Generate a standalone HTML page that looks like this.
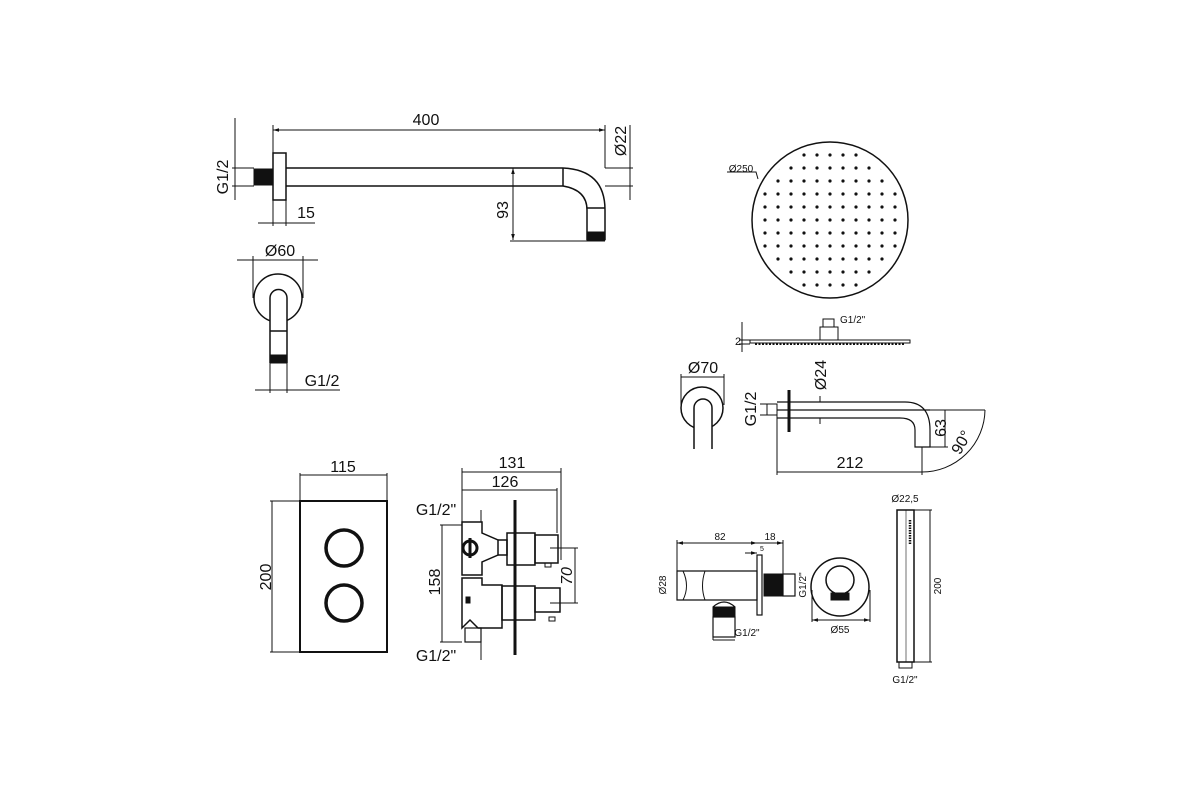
<!DOCTYPE html>
<html><head><meta charset="utf-8"><style>
html,body{margin:0;padding:0;background:#fff;}
svg{display:block;}
text{font-family:"Liberation Sans",sans-serif;fill:#111;}
</style></head><body>
<svg width="1200" height="800" viewBox="0 0 1200 800" xmlns="http://www.w3.org/2000/svg">
<defs>
<marker id="a" viewBox="0 0 10 10" refX="10" refY="5" markerWidth="6" markerHeight="6" orient="auto-start-reverse"><path d="M0,2 L10,5 L0,8 z" fill="#111"/></marker>
<pattern id="dp" x="823.5" y="213.5" width="13" height="13" patternUnits="userSpaceOnUse">
<circle cx="6.5" cy="6.5" r="1.6" fill="#111"/>
</pattern>
<clipPath id="cc"><circle cx="830" cy="220" r="72"/></clipPath>
</defs>
<rect x="755" y="145" width="150" height="150" fill="url(#dp)" clip-path="url(#cc)"/>
<g fill="none" stroke="#111" stroke-width="1">
<!-- top arm -->
<line x1="273" y1="130" x2="605" y2="130" marker-start="url(#a)" marker-end="url(#a)"/>
<line x1="273" y1="125" x2="273" y2="153"/>
<line x1="605" y1="125" x2="605" y2="168"/>
<rect x="273" y="153" width="13" height="47" stroke-width="1.5"/>
<rect x="254" y="169" width="19" height="16" fill="#111"/>
<path d="M286,168 H563 M286,186 H563 M563,168 V186" stroke-width="1.5"/>
<path d="M563,168 Q605,170 605,210 V240 M563,186 Q587,190 587,210 V240 M587,208 H605" stroke-width="1.5"/>
<rect x="587" y="232" width="18" height="8" fill="#111"/>
<line x1="235" y1="118" x2="235" y2="200"/>
<line x1="232" y1="168" x2="254" y2="168"/><line x1="232" y1="186" x2="254" y2="186"/>
<line x1="273" y1="200" x2="273" y2="226"/><line x1="286" y1="200" x2="286" y2="226"/>
<line x1="258" y1="223" x2="315" y2="223"/>
<line x1="513" y1="168" x2="513" y2="240" marker-start="url(#a)" marker-end="url(#a)"/>
<line x1="510" y1="241" x2="605" y2="241"/>
<line x1="630" y1="125" x2="630" y2="200"/>
<line x1="605" y1="168" x2="633" y2="168"/><line x1="605" y1="186" x2="633" y2="186"/>
<!-- O60 -->
<circle cx="278" cy="298" r="24" stroke-width="1.5"/>
<path d="M270,363 V298 A8.5,8.5 0 0 1 287,298 V363 M270,331 H287" fill="#fff" stroke-width="1.5"/>
<rect x="270" y="355" width="17" height="8" fill="#111"/>
<line x1="237" y1="260" x2="318" y2="260"/>
<line x1="253" y1="256" x2="253" y2="298"/><line x1="303" y1="256" x2="303" y2="298"/>
<line x1="255" y1="390" x2="340" y2="390"/>
<line x1="270" y1="363" x2="270" y2="393"/><line x1="287" y1="363" x2="287" y2="393"/>
<!-- shower head -->
<circle cx="830" cy="220" r="78" stroke-width="1.5"/>
<path d="M727,172 H756 L758,179"/>
<rect x="750" y="340" width="160" height="3" stroke-width="1"/>
<path d="M755,344 H905" stroke-dasharray="2,1.5" stroke-width="2"/>
<rect x="820" y="327" width="18" height="13"/>
<rect x="823" y="319" width="11" height="8"/>
<line x1="742" y1="322" x2="742" y2="352"/>
<line x1="739" y1="340" x2="750" y2="340"/><line x1="739" y1="344" x2="750" y2="344"/>
<!-- O70 -->
<circle cx="702" cy="408" r="21" stroke-width="1.5"/>
<path d="M694,449 V408 A9,9 0 0 1 712,408 V449" fill="#fff" stroke-width="1.5"/>
<line x1="681" y1="377" x2="724" y2="377"/>
<line x1="681" y1="374" x2="681" y2="405"/><line x1="724" y1="374" x2="724" y2="405"/>
<rect x="767" y="404" width="10" height="11"/>
<line x1="789" y1="390" x2="789" y2="432" stroke-width="3"/>
<path d="M777,402 H905 Q930,402 930,430 V447 H915 V430 Q915,418 900,418 H777 M777,410 H930" stroke-width="1.2"/>
<line x1="760" y1="404" x2="767" y2="404"/><line x1="760" y1="415" x2="767" y2="415"/>
<line x1="820" y1="396" x2="820" y2="402"/><line x1="820" y1="418" x2="820" y2="424"/>
<line x1="930" y1="410" x2="985" y2="410"/><line x1="930" y1="447" x2="948" y2="447"/>
<line x1="945" y1="410" x2="945" y2="447"/>
<line x1="777" y1="415" x2="777" y2="475"/><line x1="922" y1="447" x2="922" y2="475"/>
<line x1="777" y1="472" x2="922" y2="472"/>
<path d="M985,410 A63,63 0 0 1 922,472"/>
<!-- plate -->
<rect x="300" y="501" width="87" height="151" stroke-width="2"/>
<circle cx="344" cy="548" r="18" stroke-width="3.5"/>
<circle cx="344" cy="603" r="18" stroke-width="3.5"/>
<line x1="300" y1="475" x2="387" y2="475"/>
<line x1="300" y1="473" x2="300" y2="501"/><line x1="387" y1="473" x2="387" y2="501"/>
<line x1="272" y1="501" x2="272" y2="652"/>
<line x1="270" y1="501" x2="300" y2="501"/><line x1="270" y1="652" x2="300" y2="652"/>
<!-- valve body -->
<line x1="462" y1="472" x2="561" y2="472"/><line x1="462" y1="490" x2="557" y2="490"/>
<line x1="462" y1="468" x2="462" y2="522"/><line x1="561" y1="468" x2="561" y2="560"/><line x1="557" y1="488" x2="557" y2="533"/>
<line x1="442" y1="525" x2="442" y2="642"/>
<line x1="440" y1="525" x2="462" y2="525"/><line x1="440" y1="642" x2="462" y2="642"/>
<line x1="481" y1="510" x2="481" y2="522"/><line x1="481" y1="642" x2="481" y2="660"/>
<path d="M462,522 H482 V533 L498,540 V555 L482,562 V575 H462 Z" stroke-width="1.5"/>
<circle cx="470" cy="548" r="7" stroke-width="3"/>
<path d="M470,538 V558" stroke-width="3"/>
<path d="M498,540 H507 V555 H498" stroke-width="1.5"/>
<rect x="507" y="533" width="28" height="32" stroke-width="1.5"/>
<rect x="535" y="535" width="23" height="28" stroke-width="1.5"/>
<rect x="545" y="563" width="6" height="4"/>
<path d="M462,578 H482 V585 H502 V628 H478 L470,620 L462,628 Z" stroke-width="1.5"/>
<rect x="466" y="597" width="4" height="6" fill="#111"/>
<rect x="465" y="628" width="16" height="14" stroke-width="1.2"/>
<rect x="502" y="586" width="33" height="34" stroke-width="1.5"/>
<rect x="535" y="588" width="25" height="24" stroke-width="1.5"/>
<rect x="549" y="617" width="6" height="4"/>
<line x1="515" y1="500" x2="515" y2="655" stroke-width="3"/>
<line x1="575" y1="548" x2="575" y2="603"/>
<line x1="550" y1="548" x2="578" y2="548"/><line x1="550" y1="603" x2="578" y2="603"/>
<!-- wall outlet -->
<line x1="677" y1="543" x2="757" y2="543" marker-start="url(#a)" marker-end="url(#a)"/>
<line x1="757" y1="543" x2="783" y2="543" marker-end="url(#a)"/>
<line x1="677" y1="540" x2="677" y2="571"/><line x1="783" y1="540" x2="783" y2="574"/>
<line x1="745" y1="553" x2="757" y2="553" marker-end="url(#a)"/>
<path d="M677,571 H757 V600 H677 Z" stroke-width="1.2"/>
<path d="M683,571 Q690,586 683,600 M705,571 Q700,586 705,600" stroke-width="1"/>
<rect x="757" y="555" width="5" height="60" stroke-width="1.2"/>
<rect x="764" y="574" width="19" height="22" fill="#111"/>
<rect x="783" y="574" width="12" height="22" stroke-width="1.2"/>
<path d="M713,607 Q724,597 735,607" stroke-width="1.2"/>
<rect x="713" y="607" width="22" height="10" fill="#111"/>
<rect x="713" y="617" width="22" height="20" stroke-width="1.2"/>
<line x1="713" y1="637" x2="713" y2="640"/><line x1="713" y1="640" x2="735" y2="640"/>
<circle cx="840" cy="587" r="29" stroke-width="1.5"/>
<circle cx="840" cy="580" r="14" stroke-width="1.5"/>
<rect x="831" y="593" width="18" height="7" fill="#111"/>
<line x1="812" y1="620" x2="870" y2="620" marker-start="url(#a)" marker-end="url(#a)"/>
<line x1="812" y1="590" x2="812" y2="622"/><line x1="870" y1="590" x2="870" y2="622"/>
<!-- hand shower -->
<rect x="897" y="510" width="17" height="152" stroke-width="1.5"/>
<line x1="906" y1="510" x2="906" y2="662" stroke-width="0.6"/>
<rect x="899" y="662" width="13" height="6"/>
<path d="M910,520 V545" stroke-width="2.5" stroke-dasharray="1.5,1"/>
<line x1="914" y1="510" x2="932" y2="510"/><line x1="914" y1="662" x2="932" y2="662"/>
<line x1="930" y1="510" x2="930" y2="662"/>
</g>
<g font-size="16">
<text x="426" y="125" text-anchor="middle">400</text>
<text x="306" y="218" text-anchor="middle">15</text>
<text x="280" y="256" text-anchor="middle">Ø60</text>
<text x="322" y="386" text-anchor="middle">G1/2</text>
<text transform="translate(228,177) rotate(-90)" text-anchor="middle">G1/2</text>
<text transform="translate(508,210) rotate(-90)" text-anchor="middle">93</text>
<text transform="translate(626,141) rotate(-90)" text-anchor="middle">Ø22</text>
<text x="703" y="373" text-anchor="middle">Ø70</text>
<text transform="translate(826,375) rotate(-90)" text-anchor="middle">Ø24</text>
<text transform="translate(756,409) rotate(-90)" text-anchor="middle">G1/2</text>
<text transform="translate(946,428) rotate(-90)" text-anchor="middle">63</text>
<text x="850" y="468" text-anchor="middle">212</text>
<text transform="translate(966,445) rotate(-60)" text-anchor="middle">90°</text>
<text x="343" y="472" text-anchor="middle">115</text>
<text transform="translate(271,577) rotate(-90)" text-anchor="middle">200</text>
<text x="512" y="468" text-anchor="middle">131</text>
<text x="505" y="487" text-anchor="middle">126</text>
<text x="436" y="515" text-anchor="middle">G1/2"</text>
<text x="436" y="661" text-anchor="middle">G1/2"</text>
<text transform="translate(440,582) rotate(-90)" text-anchor="middle">158</text>
<text transform="translate(572,576) rotate(-90)" text-anchor="middle" font-style="italic">70</text>
</g>
<g font-size="10">
<text x="741" y="172" text-anchor="middle">Ø250</text>
<text x="840" y="323">G1/2"</text>
<text x="735" y="345" font-size="11">2</text>
<text x="720" y="540" text-anchor="middle">82</text>
<text x="770" y="540" text-anchor="middle">18</text>
<text x="760" y="551" font-size="7">5</text>
<text transform="translate(666,585) rotate(-90)" text-anchor="middle">Ø28</text>
<text transform="translate(806,585) rotate(-90)" text-anchor="middle">G1/2"</text>
<text x="747" y="636" text-anchor="middle">G1/2"</text>
<text x="840" y="633" text-anchor="middle">Ø55</text>
<text x="905" y="502" text-anchor="middle">Ø22,5</text>
<text transform="translate(941,586) rotate(-90)" text-anchor="middle">200</text>
<text x="905" y="683" text-anchor="middle">G1/2"</text>
</g>
</svg>
</body></html>
